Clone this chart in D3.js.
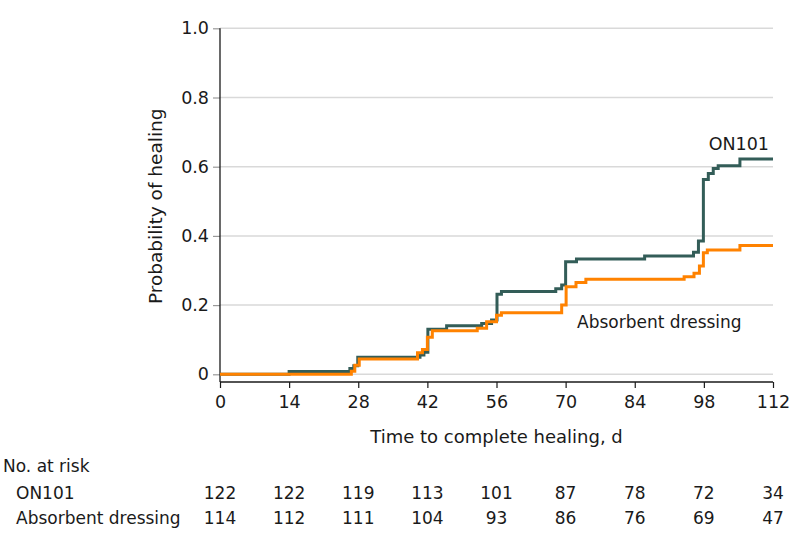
<!DOCTYPE html>
<html>
<head>
<meta charset="utf-8">
<script src="https://cdn.jsdelivr.net/npm/d3@7"></script>
<style>
  body { margin: 0; background: #fff; }
  text { font-family: "DejaVu Sans", sans-serif; fill: #1a1a1a; }
</style>
</head>
<body>
<svg id="chart" width="798" height="547"></svg>
<script>
// step data (day, cumulative probability of healing)
var on101Days  = [0, 14, 26.3, 27.1, 27.9, 40.5, 41.3, 42.1, 45.9, 53, 55, 56.1, 57, 68, 69.2, 70, 72.2, 86, 95.9, 96.9, 97.9, 98.9, 99.9, 100.9, 105.3, 112];
var on101Prob  = [0, 0.008, 0.017, 0.025, 0.049, 0.056, 0.064, 0.130, 0.140, 0.147, 0.157, 0.231, 0.239, 0.247, 0.258, 0.325, 0.333, 0.342, 0.353, 0.385, 0.563, 0.580, 0.595, 0.603, 0.622, 0.622];
var dressDays  = [0, 26.6, 27.3, 28.2, 40, 41, 42, 43, 52.1, 54, 56, 57, 69.2, 70.1, 72.1, 74.1, 94, 96, 97.1, 97.9, 98.7, 105.3, 112];
var dressProb  = [0, 0.009, 0.026, 0.044, 0.062, 0.072, 0.107, 0.126, 0.133, 0.152, 0.171, 0.178, 0.200, 0.253, 0.265, 0.275, 0.282, 0.292, 0.313, 0.351, 0.359, 0.372, 0.372];

var xTicks = [0, 14, 28, 42, 56, 70, 84, 98, 112];
var yTicks = [0, 0.2, 0.4, 0.6, 0.8, 1.0];

var riskLabels = ["ON101", "Absorbent dressing"];
var riskOn101  = [122, 122, 119, 113, 101, 87, 78, 72, 34];
var riskDress  = [114, 112, 111, 104, 93, 86, 76, 69, 47];

var green = "#335d58", orange = "#ff8200";

var svg = d3.select("#chart");

var plotLeft = 220, plotRight = 773, plotTop = 28.3, zeroY = 374.3, axisY = 382;

var x = d3.scaleLinear().domain([0, 112]).range([plotLeft, plotRight]);
var y = d3.scaleLinear().domain([0, 1]).range([zeroY, plotTop]);

//gridlines
svg.append("g")
  .selectAll("line")
  .data(yTicks)
  .enter().append("line")
  .attr("x1", plotLeft).attr("x2", plotRight)
  .attr("y1", d => y(d)).attr("y2", d => y(d))
  .attr("stroke", "#d9d9d9")
  .attr("stroke-width", 1.5);

//x axis
var xAxis = svg.append("g")
  .attr("transform", "translate(0," + axisY + ")")
  .call(d3.axisBottom(x).tickValues(xTicks).tickSize(6).tickPadding(8).tickSizeOuter(0));
xAxis.select(".domain").remove();
xAxis.append("line").attr("x1", plotLeft).attr("x2", plotRight).attr("stroke", "#1a1a1a").attr("stroke-width", 1.3);

//y axis
var yAxis = svg.append("g")
  .attr("transform", "translate(" + plotLeft + ",0)")
  .call(d3.axisLeft(y).tickValues(yTicks).tickSize(7).tickPadding(4)
    .tickFormat(d => d === 0 ? "0" : d3.format(".1f")(d)));
yAxis.select(".domain").remove();
yAxis.append("line").attr("y1", plotTop).attr("y2", axisY).attr("stroke", "#1a1a1a").attr("stroke-width", 1.3);

svg.selectAll(".tick line").attr("stroke", "#1a1a1a").attr("stroke-width", 1.2);
svg.selectAll(".tick text").style("font-family", "DejaVu Sans").style("font-size", "17.5px").attr("fill", "#1a1a1a");
yAxis.selectAll(".tick line").attr("stroke", "#999");

//axis titles
svg.append("text")
  .attr("x", (plotLeft + plotRight) / 2).attr("y", 443)
  .attr("text-anchor", "middle")
  .style("font-size", "18px")
  .text("Time to complete healing, d");

svg.append("text")
  .attr("transform", "translate(162," + ((plotTop + zeroY) / 2 + 5) + ") rotate(-90)")
  .attr("text-anchor", "middle")
  .style("font-size", "18.5px")
  .text("Probability of healing");

//step curves
var line = d3.line()
  .x(d => x(d[0]))
  .y(d => y(d[1]))
  .curve(d3.curveStepAfter);

svg.append("path")
  .datum(d3.zip(on101Days, on101Prob))
  .attr("fill", "none")
  .attr("stroke", green)
  .attr("stroke-width", 3)
  .attr("d", line);

svg.append("path")
  .datum(d3.zip(dressDays, dressProb))
  .attr("fill", "none")
  .attr("stroke", orange)
  .attr("stroke-width", 3)
  .attr("d", line);

//curve labels
svg.append("text")
  .attr("x", 769).attr("y", 150)
  .attr("text-anchor", "end")
  .style("font-size", "17.5px")
  .text("ON101");

svg.append("text")
  .attr("x", 577).attr("y", 328)
  .style("font-size", "17px")
  .text("Absorbent dressing");

//number at risk table
svg.append("text")
  .attr("x", 3).attr("y", 472)
  .style("font-size", "17px")
  .text("No. at risk");

var rows = [riskOn101, riskDress];
var rowY = [499, 524];

rows.forEach(function (vals, i) {
  svg.append("text")
    .attr("x", 16).attr("y", rowY[i])
    .style("font-size", "17px")
    .text(riskLabels[i]);

  svg.append("g")
    .selectAll("text")
    .data(vals)
    .enter().append("text")
    .attr("x", (d, j) => x(xTicks[j]))
    .attr("y", rowY[i])
    .attr("text-anchor", "middle")
    .style("font-size", "17px")
    .text(d => d);
});
</script>
</body>
</html>
